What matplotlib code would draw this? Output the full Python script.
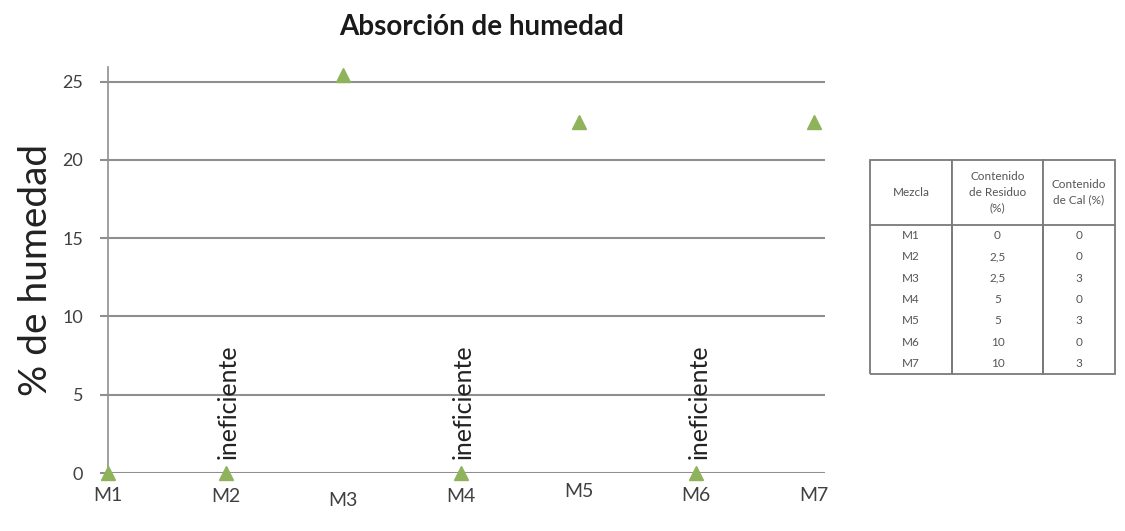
import matplotlib
matplotlib.use("Agg")
import matplotlib.pyplot as plt
from matplotlib.transforms import ScaledTranslation

plt.rcParams['font.family'] = ['Lato', 'DejaVu Sans']

# Mixtures and measured moisture absorption (%)
mezclas = ["M1", "M2", "M3", "M4", "M5", "M6", "M7"]
humedad = [0, 0, 25.4, 0, 22.4, 0, 22.4]
ineficientes = ["M2", "M4", "M6"]

# Composition table
col_headers = ["Mezcla", "Contenido\nde Residuo\n(%)", "Contenido\nde Cal (%)"]
residuo = ["0", "2,5", "2,5", "5", "5", "10", "10"]
cal = ["0", "0", "3", "0", "3", "0", "3"]

yticks = [0, 5, 10, 15, 20, 25]

fig = plt.figure(figsize=(11.25, 5.31), dpi=100)
ax = fig.add_axes([0.096, 0.1092, 0.637, 0.7638])

x = list(range(len(mezclas)))
ax.plot(x, humedad, linestyle='none', marker='^', markersize=10,
        color='#8fb35a', markeredgecolor='#8fb35a', clip_on=False, zorder=5)

for name in ineficientes:
    i = mezclas.index(name)
    ax.text(i + 0.02, 0.9, "ineficiente", rotation=90, ha='center', va='bottom',
            fontsize=18, color='#222222')

ax.set_xlim(0, 6.09)
ax.set_ylim(0, 25.9)
ax.set_yticks(yticks)
ax.set_yticklabels([str(v) for v in yticks])
ax.yaxis.grid(True, color='#8f8f8f', linewidth=1.5)
ax.set_axisbelow(True)

for s in ['top', 'right', 'bottom']:
    ax.spines[s].set_visible(False)
ax.spines['left'].set_color('#8f8f8f')
ax.spines['left'].set_linewidth(1.2)

ax.tick_params(axis='y', length=6, width=1.5, color='#8f8f8f', pad=12,
               labelsize=13, labelcolor='#404040')
ax.set_xticks(x)
ax.set_xticklabels(mezclas)
ax.tick_params(axis='x', length=0, pad=10, labelsize=14, labelcolor='#404040')

# slight vertical offsets of the category labels
offsets = [0, -1, -5, -1, 4, 0, 0]
for lab, dy in zip(ax.get_xticklabels(), offsets):
    lab.set_transform(lab.get_transform() + ScaledTranslation(0, dy / 100, fig.dpi_scale_trans))

ax.set_ylabel("% de humedad", fontsize=28, color='#222222', labelpad=6)
fig.text(0.428, 0.95, "Absorción de humedad", ha='center', va='center',
         fontsize=20, fontweight='bold', color='#1a1a1a')

# Composition table on the right
tax = fig.add_axes([870 / 1125, 1 - 374 / 531, (1115 - 870) / 1125, (374 - 160) / 531])
tax.axis('off')
cell_text = [[m, r, c] for m, r, c in zip(mezclas, residuo, cal)]
tbl = tax.table(cellText=cell_text, colLabels=col_headers, cellLoc='center',
                bbox=[0, 0, 1, 1], colWidths=[82, 91, 72])
tbl.auto_set_font_size(False)
total_h = 374 - 160
head_h = 65 / total_h
row_h = (1 - head_h) / len(mezclas)
for (r, c), cell in tbl.get_celld().items():
    cell.set_edgecolor('#7a7a7a')
    cell.set_linewidth(1.3)
    txt = cell.get_text()
    txt.set_fontsize(8.5)
    txt.set_color('#555555')
    if r == 0:
        cell.set_height(head_h)
        cell.visible_edges = 'closed'
        txt.set_linespacing(1.5)
    else:
        cell.set_height(row_h)
        cell.visible_edges = 'BLR' if r == len(mezclas) else 'LR'

fig.savefig("out.png", dpi=100, facecolor='white')
